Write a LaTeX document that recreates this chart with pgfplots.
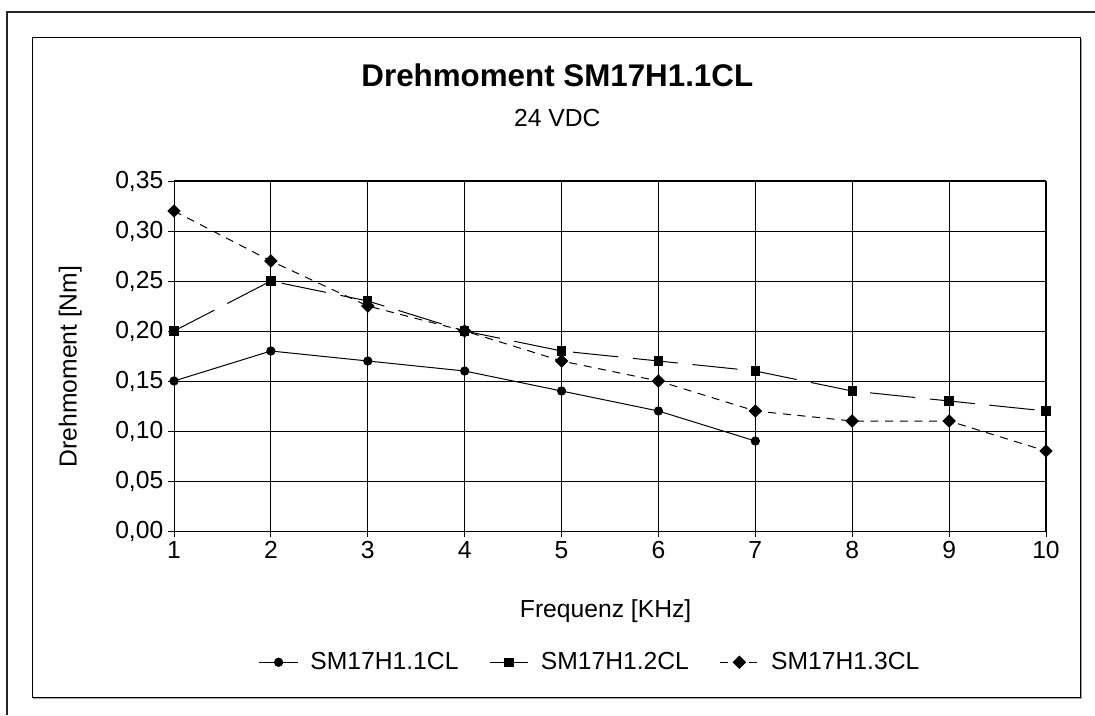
\documentclass[border=0pt]{standalone}
\usepackage{pgfplots}
\pgfplotsset{compat=1.18}
\usepackage{fontspec}
\setmainfont{Liberation Sans}
\begin{document}
\begin{tikzpicture}
\useasboundingbox (0,0) rectangle (821.25pt,536.25pt);
% outer frame (top and left)
\draw[line width=1.5pt,black!85] (5.25pt,0pt) -- (5.25pt,527.25pt) -- (821.25pt,527.25pt);
% inner frame with soft shadow
\draw[line width=1pt,gray!70] (24.75pt,12.75pt) -- (810.75pt,12.75pt) -- (810.75pt,507pt);
\draw[line width=0.75pt,black] (24pt,13.5pt) rectangle (810pt,507.75pt);
% title
\node[anchor=base,font=\fontsize{23.5}{28}\selectfont\bfseries] at (418pt,471pt) {Drehmoment SM17H1.1CL};
\node[anchor=base,font=\fontsize{18.5}{22}\selectfont] at (418pt,441pt) {24 VDC};
\begin{axis}[
  at={(130.5pt,138pt)}, anchor=south west,
  scale only axis, width=654pt, height=262.5pt,
  xmin=1, xmax=10, ymin=0, ymax=0.35,
  xtick={1,2,...,10},
  ytick={0,0.05,...,0.35},
  grid=major,
  grid style={black, line width=0.7pt},
  axis line style={black, line width=0.75pt},
  tick align=outside, major tick length=4.5pt,
  tick style={black, line width=0.7pt},
  xtick pos=left, ytick pos=left,
  font=\fontsize{18.5}{22}\selectfont,
  ticklabel style={font=\fontsize{18.5}{22}\selectfont},
  /pgf/number format/assume math mode=true,
  yticklabel style={/pgf/number format/.cd, fixed, fixed zerofill, precision=2, use comma},
  xticklabel style={/pgf/number format/.cd, fixed, precision=0},
  xlabel={Frequenz [KHz]},
  xlabel style={at={(axis description cs:0.495,0)}, anchor=base, yshift=-64.5pt},
  ylabel={Drehmoment [Nm]},
  ylabel style={at={(axis description cs:-0.119,0.47)}, anchor=center},
  legend columns=3,
  legend style={draw=none, fill=none, at={(axis description cs:0.4775,-0.375)}, anchor=center,
    font=\fontsize{18.5}{22}\selectfont,
    /tikz/every odd column/.append style={column sep=7pt},
    /tikz/every even column/.append style={column sep=21pt}},
  legend image code/.code={\draw[mark repeat=2,mark phase=2,#1] plot coordinates {(0pt,0pt) (14.5pt,0pt) (29pt,0pt)};},
]
\addplot[black, line width=0.75pt, mark=*, mark size=3.1pt, mark options={solid}] coordinates {
(1,0.15) (2,0.18) (3,0.17) (4,0.16) (5,0.14) (6,0.12) (7,0.09)};
\addlegendentry{SM17H1.1CL}
\addplot[black, line width=0.75pt, dash pattern=on 34pt off 11pt, mark=square*, mark size=3.1pt, mark options={solid}] coordinates {
(1,0.20) (2,0.25) (3,0.23) (4,0.20) (5,0.18) (6,0.17) (7,0.16) (8,0.14) (9,0.13) (10,0.12)};
\addlegendentry{SM17H1.2CL}
\addplot[black, line width=0.75pt, dash pattern=on 6pt off 5pt, mark=square*, mark size=3.2pt, mark options={solid, rotate=45}] coordinates {
(1,0.32) (2,0.27) (3,0.225) (4,0.20) (5,0.17) (6,0.15) (7,0.12) (8,0.11) (9,0.11) (10,0.08)};
\addlegendentry{SM17H1.3CL}
\end{axis}
\end{tikzpicture}
\end{document}
